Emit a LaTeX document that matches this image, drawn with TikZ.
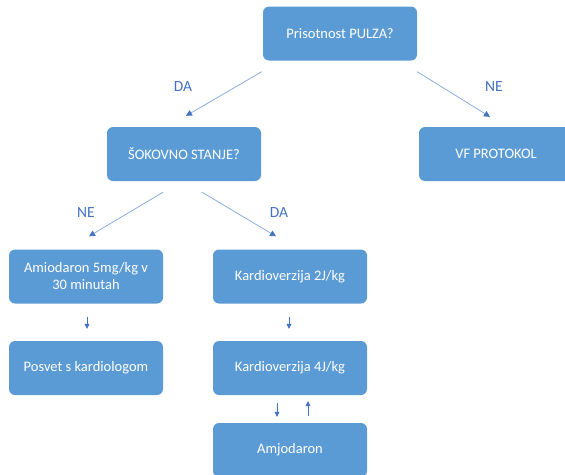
\documentclass[tikz,border=0pt]{standalone}
\usepackage{fontspec}
\setmainfont{Carlito}
\usetikzlibrary{arrows.meta,calc}
\definecolor{boxblue}{HTML}{5B9BD5}
\definecolor{tipblue}{HTML}{4472C4}
\definecolor{lineblue}{HTML}{8AAEE3}
\begin{document}
\begin{tikzpicture}[x=1pt,y=-1pt,
  stepbox/.style={fill=boxblue, rounded corners=6pt, minimum width=154pt,
    minimum height=54pt, text=white, align=center, inner sep=0pt,
    font=\fontsize{14.5}{17}\selectfont},
  lbl/.style={text=tipblue, font=\fontsize{15.5}{18}\selectfont, inner sep=0pt},
  link/.style={draw=lineblue, line width=0.8pt,
    -{Triangle[length=6pt,width=6pt,color=tipblue]}},
  shortlink/.style={draw=tipblue, line width=0.8pt,
    -{Triangle[length=5pt,width=5pt,color=tipblue]}}]
\useasboundingbox (0,0) rectangle (565,474);

% boxes
\node[stepbox] (pulz) at (340,33.5) {Prisotnost PULZA?};
\node[stepbox] (sok)  at (184,154) {ŠOKOVNO STANJE?};
\node[stepbox] (vf)   at (496,154) {VF PROTOKOL};
\node[stepbox] (amio) at (86,276.5) {Amiodaron 5mg/kg v\\30 minutah};
\node[stepbox] (kd2)  at (290,276.5) {Kardioverzija 2J/kg};
\node[stepbox] (posv) at (86,368) {Posvet s kardiologom};
\node[stepbox] (kd4)  at (290,368) {Kardioverzija 4J/kg};
\node[stepbox] (amj)  at (290,450) {Amjodaron};

% branch labels
\node[lbl] (da1) at (183,87) {DA};
\node[lbl] (ne1) at (494,87) {NE};
\node[lbl] (ne2) at (86,213) {NE};
\node[lbl] (da2) at (279,213) {DA};

% connectors
\draw[link] ($(pulz.south west)+(-1,11)$) -- ($(sok.north)+(2,-11)$);
\draw[link] ($(pulz.south east)+(0,11)$) -- ($(vf.north)+(-6,-10)$);
\draw[link] ($(sok.south)+(-21,11)$) -- ($(amio.north)+(3,-13)$);
\draw[link] ($(sok.south)+(18,11)$) -- ($(kd2.north)+(-14,-13)$);
\draw[shortlink] ($(amio.south)+(1,13)$) -- ($(posv.north)+(1,-12)$);
\draw[shortlink] ($(kd2.south)+(-1,13)$) -- ($(kd4.north)+(-1,-12)$);
\draw[shortlink] ($(kd4.south)+(-13,8)$) -- ($(amj.north)+(-13,-6)$);
\draw[shortlink] ($(amj.north)+(18,-7)$) -- ($(kd4.south)+(18,6)$);
\end{tikzpicture}
\end{document}
